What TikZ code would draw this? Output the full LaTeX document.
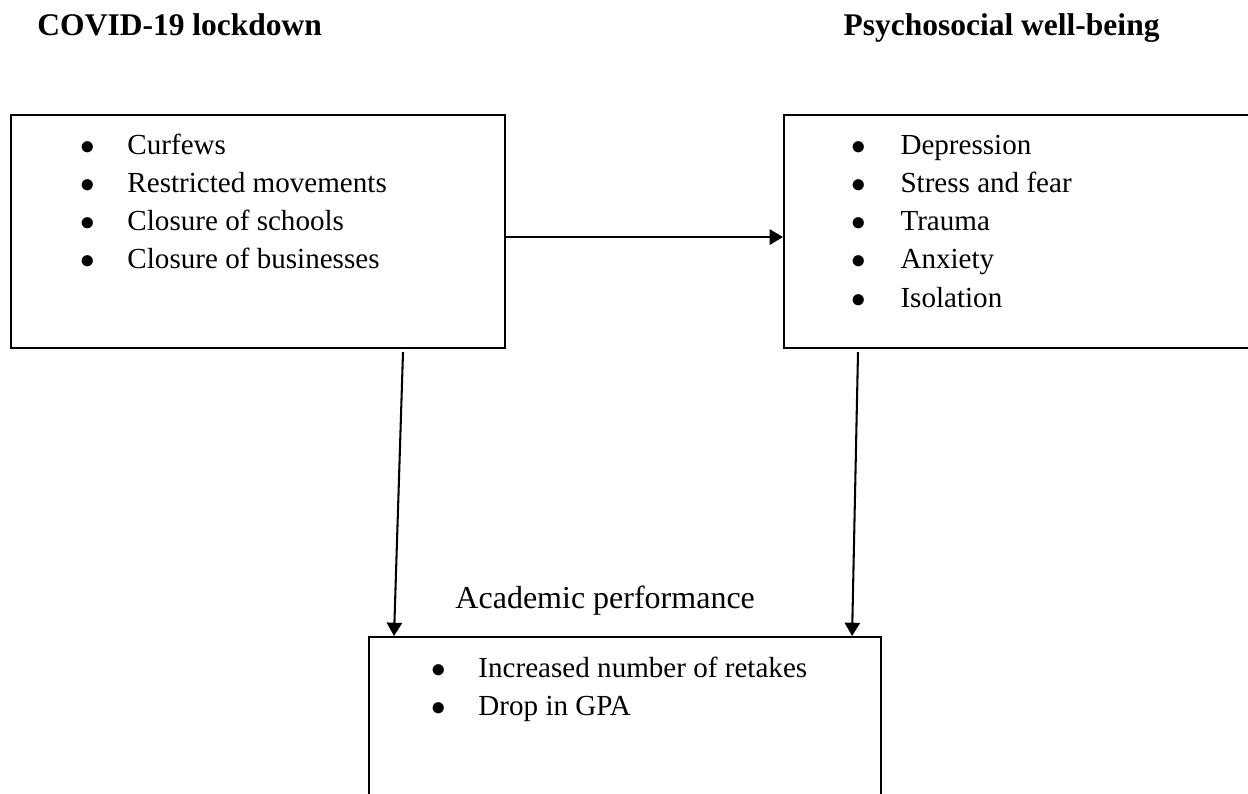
\documentclass[tikz,border=0pt]{standalone}
\usepackage{fontspec}
\setmainfont{Liberation Serif}
\usepackage{tikz}
\usetikzlibrary{arrows.meta}

\newdimen\px
\px=0.4125pt

\begin{document}
\begin{tikzpicture}[
    x=0.4125pt, y=-0.4125pt,
    box/.style={draw, line width=0.85pt, inner sep=0pt, anchor=north west},
    item/.style={inner sep=0pt, anchor=base west, font=\fontsize{12}{14}\selectfont},
    head/.style={inner sep=0pt, anchor=base west, font=\fontsize{13}{15}\selectfont\bfseries},
    arr/.style={-{Triangle[length=5.5pt, width=6.3pt]}, line width=0.85pt},
]
\useasboundingbox (0,0) rectangle (1248,793);
\clip (0,0) rectangle (1248,793);

% === Headings ===
\node[head] (lock-label) at (37,35) {COVID-19 lockdown};
\node[head] (well-label) at (843,35) {Psychosocial well-being};

% === Boxes ===
\node[box, minimum width=494\px, minimum height=233\px] (lockdown) at (10,114) {};
\node[box, minimum width=600\px, minimum height=233\px] (wellbeing) at (783,114) {};
\node[box, minimum width=512\px, minimum height=300\px] (perf) at (368,636) {};

% === Bullet lists ===
\foreach \txt [count=\i from 0] in {Curfews, Restricted movements, Closure of schools, Closure of businesses}
  \node[item] (lock-\i) at (80,154+38.3*\i) {\makebox[47\px][l]{$\bullet$}\txt};

\foreach \txt [count=\i from 0] in {Depression, Stress and fear, Trauma, Anxiety, Isolation}
  \node[item] (well-\i) at (851,154+38.3*\i) {\makebox[49\px][l]{$\bullet$}\txt};

\foreach \txt [count=\i from 0] in {Increased number of retakes, Drop in GPA}
  \node[item] (perf-\i) at (431,677+38.3*\i) {\makebox[47\px][l]{$\bullet$}\txt};

\node[item, font=\fontsize{13.2}{15}\selectfont] (perf-label) at (455,608) {Academic performance};

% === Connectors ===
\coordinate (lock-down) at (403,352);
\coordinate (well-down) at (858,352);

\draw[arr] ([yshift=-5.5\px]lockdown.east) -- ([yshift=-5.5\px]wellbeing.west);
\draw[arr] (lock-down) -- ([xshift=26\px]perf.north west);
\draw[arr] (well-down) -- ([xshift=-30\px]perf.north east);

\end{tikzpicture}
\end{document}
